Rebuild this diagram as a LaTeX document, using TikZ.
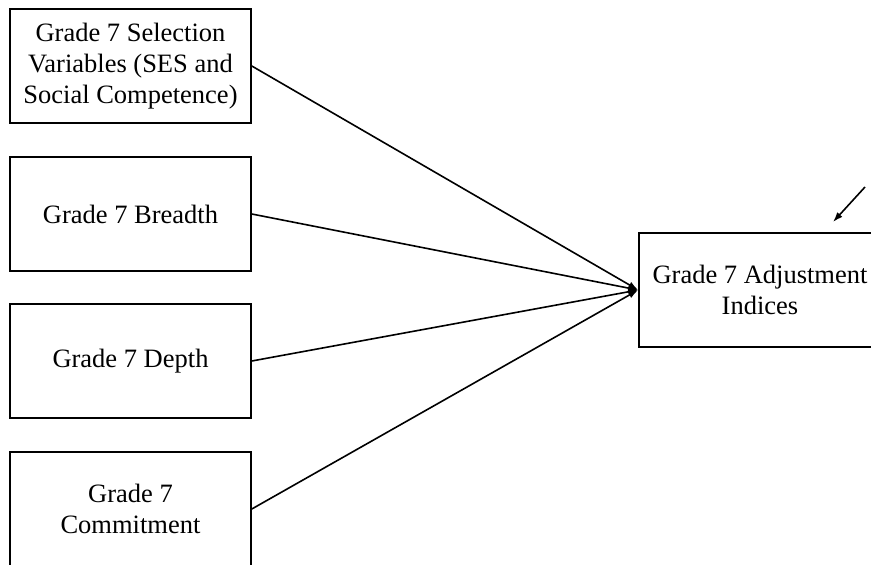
\documentclass[tikz,border=0pt]{standalone}
\usepackage{fontspec}
\setmainfont{Liberation Serif}
\usetikzlibrary{arrows.meta}
\begin{document}
\begin{tikzpicture}[x=1pt,y=-1pt,
  varbox/.style={draw, line width=1.6pt, minimum width=241pt, minimum height=114pt,
    align=center, inner sep=0pt, font=\fontsize{26.5}{31}\selectfont},
  path/.style={line width=1.6pt, -{Latex[length=10pt,width=7pt]}}]
\useasboundingbox (0,0) rectangle (871,565);
\clip (0,0) rectangle (871,565);
\node[varbox] (sel) at (130.5,66) {Grade 7 Selection\\Variables (SES and\\Social Competence)};
\node[varbox] (bre) at (130.5,214) {Grade 7 Breadth};
\node[varbox] (dep) at (130.5,361) {Grade 7 Depth};
\node[varbox] (com) at (130.5,509) {Grade 7\\Commitment};
\node[varbox, minimum width=242pt] (adj) at (760,290) {Grade 7 Adjustment\\Indices};
\coordinate (err) at (865,187);
\foreach \n in {sel,bre,dep,com}
  \draw[path] (\n.east) -- (adj.west);
\draw[path] (err) -- (833,222);
\end{tikzpicture}
\end{document}
